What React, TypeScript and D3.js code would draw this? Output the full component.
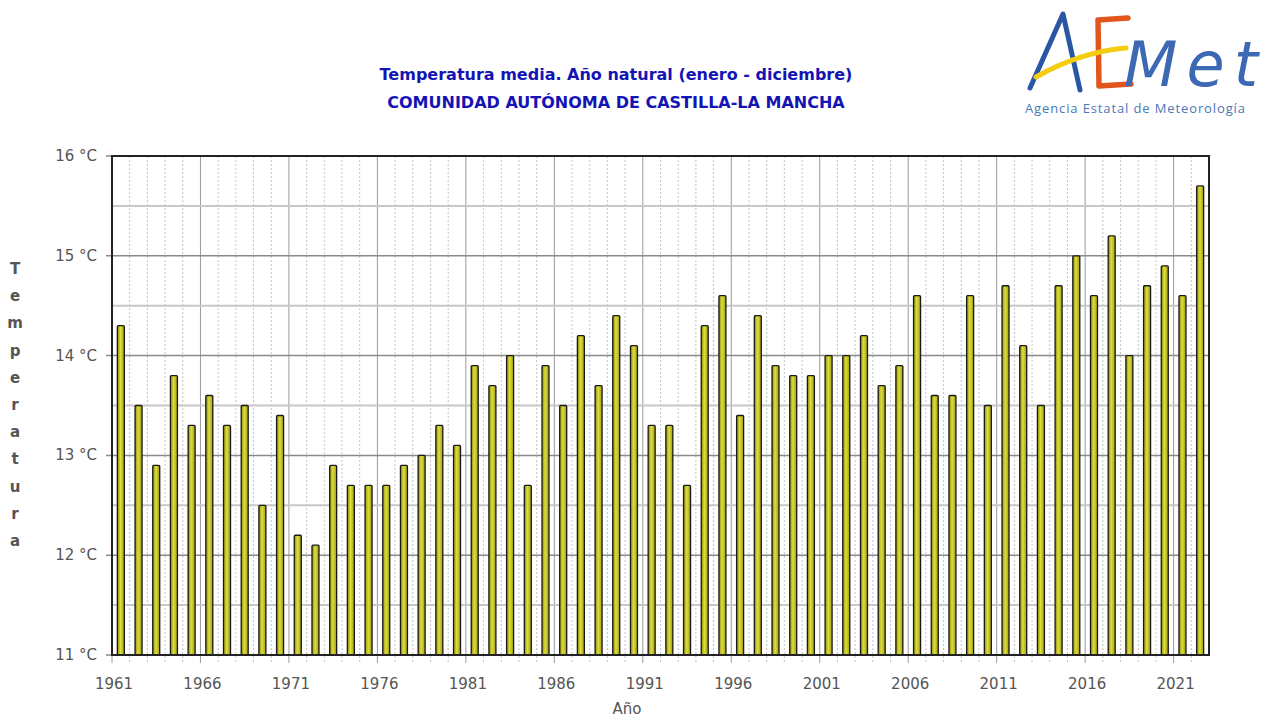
import * as d3 from 'd3';
import React from 'react';

const years: number[] = d3.range(1961, 2023);
const temps: number[] = [
  14.3, 13.5, 12.9, 13.8, 13.3, 13.6, 13.3, 13.5, 12.5, 13.4,
  12.2, 12.1, 12.9, 12.7, 12.7, 12.7, 12.9, 13.0, 13.3, 13.1,
  13.9, 13.7, 14.0, 12.7, 13.9, 13.5, 14.2, 13.7, 14.4, 14.1,
  13.3, 13.3, 12.7, 14.3, 14.6, 13.4, 14.4, 13.9, 13.8, 13.8,
  14.0, 14.0, 14.2, 13.7, 13.9, 14.6, 13.6, 13.6, 14.6, 13.5,
  14.7, 14.1, 13.5, 14.7, 15.0, 14.6, 15.2, 14.0, 14.7, 14.9,
  14.6, 15.7,
];
const yTicks: number[] = [11, 12, 13, 14, 15, 16];
const xTickYears: number[] = [1961, 1966, 1971, 1976, 1981, 1986, 1991, 1996, 2001, 2006, 2011, 2016, 2021];
const titleLines: string[] = [
  'Temperatura media. Año natural (enero - diciembre)',
  'COMUNIDAD AUTÓNOMA DE CASTILLA-LA MANCHA',
];
const yTitle = 'Temperatura';
const xTitle = 'Año';

const W = 1263;
const H = 717;
const plot = { left: 112, right: 1209, top: 156, bottom: 655 };
const font = 'DejaVu Sans, Verdana, sans-serif';

const App: React.FC = () => {
  const x = d3
    .scaleBand<number>()
    .domain(years)
    .range([plot.left, plot.right])
    .paddingInner(0)
    .paddingOuter(0);
  const y = d3.scaleLinear().domain([11, 16]).range([plot.bottom, plot.top]);
  const bw = 7;
  const halfTicks = d3.range(11.5, 16, 1);

  return (
    <div style={{ position: 'absolute', left: 0, top: 0 }}>
      <svg width={W} height={H} style={{ display: 'block', background: '#fff' }}>
        <defs>
          <linearGradient id="barGrad" x1="0" x2="1" y1="0" y2="0">
            <stop offset="0%" stopColor="#8c8c0a" />
            <stop offset="45%" stopColor="#dede3c" />
            <stop offset="100%" stopColor="#9c9c12" />
          </linearGradient>
        </defs>

        {/* title */}
        {titleLines.map((t, i) => (
          <text
            key={t}
            x={616}
            y={80 + i * 28}
            textAnchor="middle"
            fontFamily={font}
            fontWeight="bold"
            fontSize={16}
            fill="#1414b4"
          >
            {t}
          </text>
        ))}

        {/* logo */}
        <g fill="none" strokeLinecap="round" strokeLinejoin="round">
          <path d="M1030,88 L1063,14 L1080,90" stroke="#2a56a6" strokeWidth={5} />
          <path d="M1098,20 L1128,18 M1098,20 L1099,86 L1131,84" stroke="#e0561c" strokeWidth={5.5} />
          <path d="M1036,77 Q1080,52 1126,48" stroke="#f4cc10" strokeWidth={5} />
          <text
            x={1124}
            y={86}
            fontFamily="DejaVu Sans, sans-serif"
            fontStyle="italic"
            fontSize={62}
            fill="#3d69b4"
            stroke="none"
            textLength={134}
          >
            Met
          </text>
          <text
            x={1025}
            y={113}
            fontFamily="Open Sans, sans-serif"
            fontSize={13}
            fill="#4a78b8"
            stroke="none"
            textLength={220}
          >
            Agencia Estatal de Meteorología
          </text>
        </g>

        {/* grid */}
        {years.map((yr) => {
          const gx = x(yr)!;
          const major = (yr - 1961) % 5 === 0;
          return (
            <line
              key={'v' + yr}
              x1={gx}
              x2={gx}
              y1={plot.top}
              y2={plot.bottom + 8}
              stroke={major ? '#9a9a9a' : '#c4c4c4'}
              strokeWidth={1}
              strokeDasharray={major ? undefined : '2,2'}
            />
          );
        })}
        {halfTicks.map((v) => (
          <line key={'h' + v} x1={plot.left} x2={plot.right} y1={y(v)} y2={y(v)} stroke="#c8c8c8" strokeWidth={2} />
        ))}
        {yTicks.map((v) => (
          <line key={'g' + v} x1={plot.left - 6} x2={plot.right} y1={y(v)} y2={y(v)} stroke="#8a8a8a" strokeWidth={1.5} />
        ))}

        {/* bars */}
        {years.map((yr, i) => {
          const cx = x(yr)! + x.bandwidth() / 2;
          const top = y(temps[i]);
          return (
            <rect
              key={'b' + yr}
              x={cx - bw / 2}
              y={top}
              width={bw}
              height={plot.bottom - top}
              fill="url(#barGrad)"
              stroke="#1a1a1a"
              strokeWidth={1.3}
              rx={1}
            />
          );
        })}

        {/* frame */}
        <rect
          x={plot.left}
          y={plot.top}
          width={plot.right - plot.left}
          height={plot.bottom - plot.top}
          fill="none"
          stroke="#222"
          strokeWidth={2}
        />

        {/* y labels */}
        {yTicks.map((v) => (
          <text
            key={'yl' + v}
            x={97}
            y={y(v) + 5}
            textAnchor="end"
            fontFamily={font}
            fontSize={15}
            fill="#555"
          >
            {`${v} °C`}
          </text>
        ))}

        {/* x labels */}
        {xTickYears.map((yr) => (
          <text
            key={'xl' + yr}
            x={x(yr)! + 2}
            y={689}
            textAnchor="middle"
            fontFamily={font}
            fontSize={15}
            fill="#555"
          >
            {yr}
          </text>
        ))}

        {/* axis titles */}
        {yTitle.split('').map((c, i) => (
          <text
            key={'yt' + i}
            x={15}
            y={274 + i * 27.2}
            textAnchor="middle"
            fontFamily={font}
            fontWeight="bold"
            fontSize={15}
            fill="#555"
          >
            {c}
          </text>
        ))}
        <text x={627} y={714} textAnchor="middle" fontFamily={font} fontSize={15} fill="#555">
          {xTitle}
        </text>
      </svg>
    </div>
  );
};

export default App;
